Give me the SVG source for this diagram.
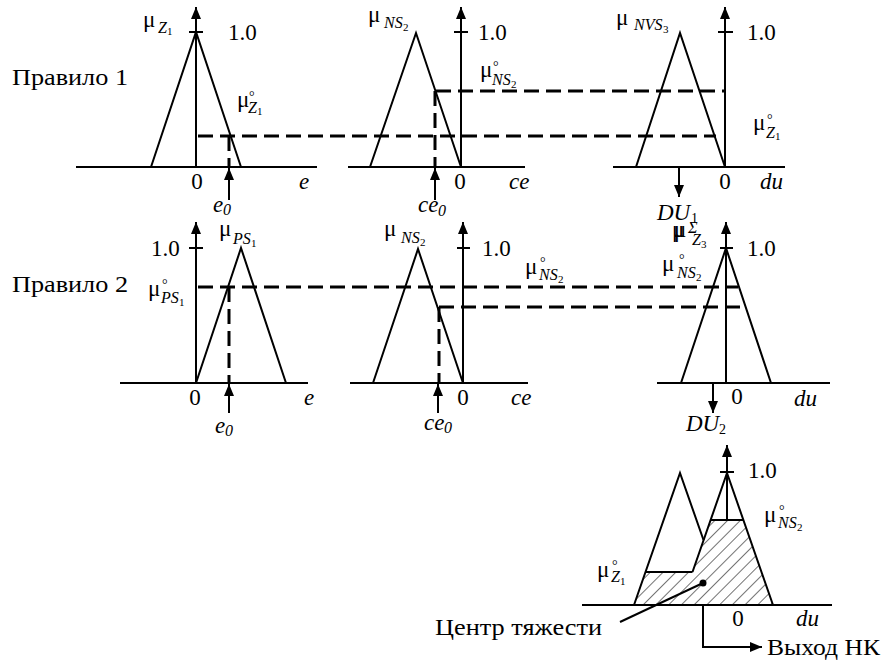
<svg xmlns="http://www.w3.org/2000/svg" width="890" height="665" viewBox="0 0 890 665" font-family="'Liberation Serif', 'Times New Roman', serif">
<style>
.t{font-family:"Liberation Serif","Times New Roman","DejaVu Serif",serif;font-size:23px;fill:#000}
.i{font-style:italic}
.s{font-size:16px;font-style:italic}
.ss{font-size:11px;font-style:normal}
.dg{font-size:14px;font-style:normal}
.ln{stroke:#000;stroke-width:2;fill:none}
.ax{stroke:#000;stroke-width:2;fill:none;marker-end:url(#ah)}
.ds{stroke:#000;stroke-width:3;fill:none;stroke-dasharray:15 7}
</style>
<defs>
<marker id="ah" viewBox="0 0 12 10" refX="12" refY="5" markerWidth="12" markerHeight="10" markerUnits="userSpaceOnUse" orient="auto">
<path d="M0,0 L12,5 L0,10 z" fill="#000"/>
</marker>
<pattern id="hatch" width="9" height="9" patternUnits="userSpaceOnUse" patternTransform="rotate(45)">
<line x1="0" y1="0" x2="0" y2="9" stroke="#000" stroke-width="1.1"/>
</pattern>
</defs>
<rect width="890" height="665" fill="#fff"/>

<g id="rule1-label"><text class="t" x="12" y="85" textLength="116" lengthAdjust="spacingAndGlyphs">Правило 1</text></g>
<g id="rule2-label"><text class="t" x="12" y="292" textLength="116" lengthAdjust="spacingAndGlyphs">Правило 2</text></g>

<g id="r1-e">
<line class="ln" x1="76" y1="167" x2="317" y2="167"/>
<line class="ax" x1="196" y1="167" x2="196" y2="7"/>
<line class="ln" x1="189" y1="32" x2="203" y2="32"/>
<polyline class="ln" points="151,167 196,32 241,167"/>
<text class="t"><tspan x="143" y="27">μ</tspan><tspan class="s" x="158" y="33">Z</tspan><tspan class="ss" x="167" y="35">1</tspan></text>
<text class="t" x="228" y="40">1.0</text>
<text class="t"><tspan x="237" y="107">μ</tspan><tspan class="dg" x="249" y="101">°</tspan><tspan class="s" x="248" y="113">Z</tspan><tspan class="ss" x="257" y="115">1</tspan></text>
<text class="t" x="197" y="189" text-anchor="middle">0</text>
<text class="t i" x="299" y="189">e</text>
</g>

<g id="r1-ce">
<line class="ln" x1="348" y1="167" x2="525" y2="167"/>
<line class="ax" x1="461" y1="167" x2="461" y2="7"/>
<line class="ln" x1="454" y1="32" x2="468" y2="32"/>
<polyline class="ln" points="370,167 416,33 461,167"/>
<text class="t"><tspan x="368" y="22">μ</tspan><tspan class="s" x="384" y="28">NS</tspan><tspan class="ss" x="403" y="31">2</tspan></text>
<text class="t" x="478" y="40">1.0</text>
<text class="t"><tspan x="480" y="77">μ</tspan><tspan class="dg" x="493" y="71">°</tspan><tspan class="s" x="492" y="85">NS</tspan><tspan class="ss" x="511" y="88">2</tspan></text>
<text class="t" x="460" y="189" text-anchor="middle">0</text>
<text class="t i" x="509" y="189">ce</text>
</g>

<g id="r1-du">
<line class="ln" x1="613" y1="167" x2="785" y2="167"/>
<line class="ax" x1="725" y1="167" x2="725" y2="7"/>
<line class="ln" x1="718" y1="32" x2="733" y2="32"/>
<polyline class="ln" points="636,167 680,33 725,167"/>
<text class="t"><tspan x="616" y="25">μ</tspan><tspan class="s" x="634" y="30">NVS</tspan><tspan class="ss" x="663" y="33">3</tspan></text>
<text class="t" x="747" y="40">1.0</text>
<text class="t"><tspan x="753" y="130">μ</tspan><tspan class="dg" x="767" y="124">°</tspan><tspan class="s" x="766" y="138">Z</tspan><tspan class="ss" x="775" y="140">1</tspan></text>
<text class="t" x="725" y="189" text-anchor="middle">0</text>
<text class="t i" x="760" y="189">du</text>
</g>

<g id="r2-e">
<line class="ln" x1="120" y1="383" x2="308" y2="383"/>
<line class="ax" x1="196" y1="383" x2="196" y2="222"/>
<line class="ln" x1="189" y1="248" x2="203" y2="248"/>
<polyline class="ln" points="196,383 241,248 286,383"/>
<text class="t" x="151" y="256">1.0</text>
<text class="t"><tspan x="219" y="236">μ</tspan><tspan class="s" x="233" y="244">PS</tspan><tspan class="ss" x="251" y="247">1</tspan></text>
<text class="t"><tspan x="148" y="296">μ</tspan><tspan class="dg" x="162" y="289">°</tspan><tspan class="s" x="161" y="303">PS</tspan><tspan class="ss" x="179" y="306">1</tspan></text>
<text class="t" x="195" y="405" text-anchor="middle">0</text>
<text class="t i" x="304" y="405">e</text>
</g>

<g id="r2-ce">
<line class="ln" x1="350" y1="383" x2="528" y2="383"/>
<line class="ax" x1="463" y1="383" x2="463" y2="222"/>
<line class="ln" x1="457" y1="248" x2="470" y2="248"/>
<polyline class="ln" points="373,383 418,249 463,383"/>
<text class="t"><tspan x="384" y="236">μ</tspan><tspan class="s" x="401" y="243">NS</tspan><tspan class="ss" x="420" y="246">2</tspan></text>
<text class="t" x="482" y="256">1.0</text>
<text class="t"><tspan x="525" y="274">μ</tspan><tspan class="dg" x="540" y="267">°</tspan><tspan class="s" x="539" y="280">NS</tspan><tspan class="ss" x="558" y="283">2</tspan></text>
<text class="t" x="463" y="405" text-anchor="middle">0</text>
<text class="t i" x="511" y="405">ce</text>
</g>

<g id="r2-du">
<line class="ln" x1="657" y1="383" x2="830" y2="383"/>
<line class="ax" x1="726" y1="383" x2="726" y2="222"/>
<line class="ln" x1="720" y1="248" x2="733" y2="248"/>
<polyline class="ln" points="681,383 726,248 771,383"/>
<text class="t"><tspan x="672" y="237">μ</tspan><tspan class="s" x="688" y="233" font-size="11">Σ</tspan></text>
<text class="t"><tspan x="674" y="237">μ</tspan><tspan class="s" x="692" y="245">Z</tspan><tspan class="ss" x="701" y="248">3</tspan></text>
<text class="t" x="747" y="256">1.0</text>
<text class="t"><tspan x="662" y="271">μ</tspan><tspan class="dg" x="679" y="264">°</tspan><tspan class="s" x="677" y="278">NS</tspan><tspan class="ss" x="696" y="281">2</tspan></text>
<text class="t" x="737" y="404" text-anchor="middle">0</text>
<text class="t i" x="794" y="406">du</text>
</g>

<g id="output">
<path d="M634,605 L645.5,572 L692.5,572 L710.6,520 L743.4,520 L773,605 Z" fill="#fff"/>
<path d="M634,605 L645.5,572 L692.5,572 L710.6,520 L743.4,520 L773,605 Z" fill="url(#hatch)"/>
<line class="ln" x1="582" y1="605" x2="832" y2="605"/>
<line class="ax" x1="727" y1="520" x2="727" y2="445"/>
<line class="ln" x1="720" y1="472" x2="734" y2="472"/>
<polyline class="ln" points="634,605 680,473 703.5,540"/>
<polyline class="ln" points="692.5,572 727,473 773,605"/>
<line class="ln" x1="645.5" y1="572" x2="692.5" y2="572"/>
<line class="ln" x1="710.6" y1="520" x2="743.4" y2="520"/>
<circle cx="703" cy="583" r="3.5" fill="#000"/>
<text class="t" x="748" y="478">1.0</text>
<text class="t"><tspan x="764" y="522">μ</tspan><tspan class="dg" x="779" y="515">°</tspan><tspan class="s" x="778" y="528">NS</tspan><tspan class="ss" x="797" y="531">2</tspan></text>
<text class="t"><tspan x="597" y="577">μ</tspan><tspan class="dg" x="612" y="570">°</tspan><tspan class="s" x="611" y="582">Z</tspan><tspan class="ss" x="620" y="585">1</tspan></text>
<text class="t" x="738" y="626" text-anchor="middle">0</text>
<text class="t i" x="796" y="626">du</text>
<text class="t" x="435" y="635" textLength="167" lengthAdjust="spacingAndGlyphs">Центр тяжести</text>
<text class="t" x="767" y="655" textLength="113" lengthAdjust="spacingAndGlyphs">Выход НК</text>
</g>

<g id="connectors">
<line class="ds" x1="198" y1="136" x2="716" y2="136"/>
<line class="ds" x1="229" y1="136" x2="229" y2="167"/>
<line class="ds" x1="436" y1="91" x2="725" y2="91"/>
<line class="ds" x1="435" y1="91" x2="435" y2="167"/>
<line class="ax" x1="229" y1="200" x2="229" y2="168"/>
<line class="ax" x1="435" y1="200" x2="435" y2="168"/>
<line class="ax" x1="679" y1="167" x2="679" y2="197"/>
<text class="t i"><tspan x="213" y="212">e</tspan><tspan class="s" x="223" y="215">0</tspan></text>
<text class="t i"><tspan x="418" y="212">ce</tspan><tspan class="s" x="438" y="216">0</tspan></text>
<text class="t"><tspan class="i" x="657" y="220">DU</tspan><tspan class="dg" x="691" y="223">1</tspan></text>

<line class="ds" x1="198" y1="287" x2="738" y2="287"/>
<line class="ds" x1="229" y1="287" x2="229" y2="383"/>
<line class="ds" x1="439" y1="307" x2="744" y2="307"/>
<line class="ds" x1="439" y1="307" x2="439" y2="383"/>
<line class="ax" x1="229" y1="413" x2="229" y2="384"/>
<line class="ax" x1="438" y1="413" x2="438" y2="384"/>
<line class="ax" x1="713" y1="383" x2="713" y2="413"/>
<text class="t i"><tspan x="215" y="433">e</tspan><tspan class="s" x="225" y="436">0</tspan></text>
<text class="t i"><tspan x="424" y="430">ce</tspan><tspan class="s" x="444" y="433">0</tspan></text>
<text class="t"><tspan class="i" x="686" y="431">DU</tspan><tspan class="dg" x="719" y="434">2</tspan></text>

<line class="ln" x1="703" y1="583" x2="620" y2="622"/>
<path class="ax" d="M703,605 V647 H762"/>
</g>
</svg>
